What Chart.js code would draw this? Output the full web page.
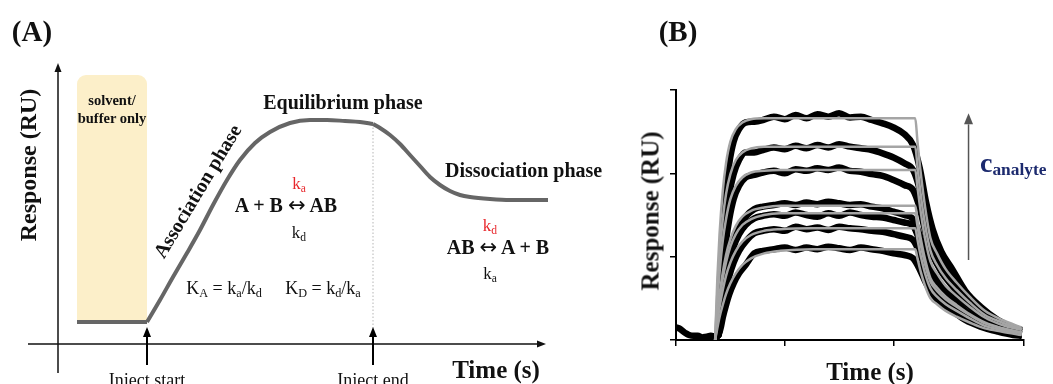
<!DOCTYPE html>
<html>
<head>
<meta charset="utf-8">
<script src="https://cdn.jsdelivr.net/npm/chart.js@4.4.1/dist/chart.umd.min.js"></script>
<style>
  html, body { margin: 0; padding: 0; background: #fff; }
  #wrap { position: relative; width: 1053px; height: 384px; overflow: hidden;
          font-family: "Liberation Serif", "Times New Roman", "DejaVu Serif", serif; color: #111; }
  canvas { position: absolute; top: 0; }
  #chartA { left: 0; }
  #chartB { left: 600px; }
  .t { position: absolute; transform: translate(-50%, -50%); white-space: nowrap; line-height: 1; }
  .l { transform: translate(0, -50%); }
  .b { font-weight: bold; }
  .rot { transform: translate(-50%, -50%) rotate(-90deg); }
  sub { font-size: 0.68em; vertical-align: -0.28em; line-height: 0; }
  .red { color: #e8262b; }
  .arr { font-family: "DejaVu Sans", sans-serif; font-weight: normal; font-size: 1.05em; }
</style>
</head>
<body>
<div id="wrap">
  <canvas id="chartA" width="600" height="384"></canvas>
  <canvas id="chartB" width="453" height="384"></canvas>

  <!-- panel A text -->
  <div class="t b" style="left:32px; top:31px; font-size:29px;">(A)</div>
  <div class="t b rot" style="left:28px; top:165px; font-size:24px;">Response (RU)</div>
  <div class="t b" style="left:112px; top:100px; font-size:14.5px;">solvent/</div>
  <div class="t b" style="left:112px; top:118px; font-size:14.5px;">buffer only</div>
  <div class="t b" style="left:197px; top:191px; font-size:20px; transform:translate(-50%,-50%) rotate(-59deg);">Association phase</div>
  <div class="t b" style="left:343px; top:102px; font-size:20px;">Equilibrium phase</div>
  <div class="t b l" style="left:445px; top:170px; font-size:20px;">Dissociation phase</div>
  <div class="t red" style="left:299px; top:183px; font-size:17px;">k<sub>a</sub></div>
  <div class="t b" style="left:286px; top:205px; font-size:20px;">A + B <span class="arr">↔</span> AB</div>
  <div class="t" style="left:299px; top:232px; font-size:17px;">k<sub>d</sub></div>
  <div class="t" style="left:224px; top:288px; font-size:18px;">K<sub>A</sub> = k<sub>a</sub>/k<sub>d</sub></div>
  <div class="t" style="left:323px; top:288px; font-size:18px;">K<sub>D</sub> = k<sub>d</sub>/k<sub>a</sub></div>
  <div class="t red" style="left:490px; top:225px; font-size:17px;">k<sub>d</sub></div>
  <div class="t b" style="left:498px; top:247px; font-size:20px;">AB <span class="arr">↔</span> A + B</div>
  <div class="t" style="left:490px; top:273px; font-size:17px;">k<sub>a</sub></div>
  <div class="t b" style="left:496px; top:369px; font-size:25px;">Time (s)</div>
  <div class="t" style="left:147px; top:380px; font-size:18px;">Inject start</div>
  <div class="t" style="left:373px; top:380px; font-size:18px;">Inject end</div>

  <!-- panel B text -->
  <div class="t b" style="left:678px; top:31px; font-size:29px;">(B)</div>
  <div class="t b rot" style="left:650px; top:211px; font-size:25px;">Response (RU)</div>
  <div class="t b" style="left:870px; top:371px; font-size:25px;">Time (s)</div>
  <div class="t b l" style="left:980px; top:163px; font-size:28px; color:#1c2a6e;">c<sub style="font-size:0.62em; vertical-align:-0.2em;">analyte</sub></div>
</div>

<script>
// ---- Panel A: schematic sensorgram (arbitrary time / response units)
const baseTime = [19, 89];
const baseResp = [22, 22];
const assocTime = [89, 102, 115, 129, 142, 155, 169, 182, 197, 212, 232, 252, 269, 287, 302, 315];
const assocResp = [22, 44, 67, 91, 114, 139, 164, 184, 201, 212, 221, 224, 224, 223, 222, 220];
const dissocTime = [315, 322, 332, 342, 352, 362, 372, 382, 392, 402, 412, 432, 452, 472, 490];
const dissocResp = [220, 216, 209, 200, 189, 178, 167, 159, 153, 149, 147, 145, 144, 144, 144];
const bufferWindow = [19, 89];
const bufferTop = 269;
const injectStart = 89;
const injectEnd = 315;

// ---- Panel B: measured responses (black) and fitted curves (grey)
const baselineTime = [0, 3, 6, 9, 12, 16, 20, 24, 28, 32, 36];
const baselineResp = [15, 14, 11, 8, 6, 5, 5, 3, 4, 5, 4];

const dataTime = [36, 39, 41, 43, 46, 49, 53, 58, 64, 72, 80, 90, 100, 110, 120, 130, 140, 150, 160, 170,
                  180, 190, 200, 210, 218, 224, 230, 236, 244, 254, 266, 280, 296, 310, 318];
const data1 = [4, 6, 73, 126, 179, 212, 238, 253, 261, 262, 264, 268, 265, 270, 266, 271, 268, 272, 267, 268,
               264, 260, 255, 247, 234, 207, 165, 133, 106, 85, 59, 40, 24, 15, 12];
const data2 = [4, 6, 57, 100, 145, 175, 199, 216, 225, 225, 228, 231, 229, 233, 230, 234, 231, 235, 232, 230,
               228, 224, 219, 212, 204, 181, 144, 116, 93, 74, 51, 35, 21, 13, 10];
const data3 = [4, 6, 45, 80, 119, 145, 169, 185, 195, 198, 201, 203, 200, 205, 203, 206, 204, 207, 203, 202,
               199, 197, 192, 186, 180, 159, 126, 102, 82, 65, 45, 31, 18, 11, 9];
const data4 = [4, 6, 29, 53, 81, 102, 121, 137, 148, 157, 160, 162, 164, 162, 165, 163, 166, 164, 162, 163,
               160, 158, 154, 150, 145, 126, 100, 81, 64, 52, 35, 24, 14, 9, 7];
const data5 = [4, 6, 26, 48, 74, 93, 112, 127, 138, 146, 149, 151, 149, 153, 150, 148, 152, 149, 153, 150,
               148, 147, 144, 141, 137, 119, 94, 76, 61, 49, 33, 23, 14, 8, 7];
const data6 = [4, 6, 21, 39, 60, 77, 93, 107, 118, 128, 131, 133, 131, 136, 133, 135, 132, 136, 134, 133,
               131, 130, 127, 124, 120, 105, 83, 67, 54, 43, 29, 20, 12, 7, 6];
const data7 = [4, 6, 14, 27, 42, 55, 68, 80, 90, 104, 107, 109, 111, 108, 111, 109, 112, 110, 108, 111,
               109, 107, 104, 102, 98, 85, 68, 55, 44, 35, 24, 16, 10, 6, 5];

const fitTime = [36, 38, 40, 43, 46, 50, 55, 61, 69, 81, 96, 126, 220, 222, 225, 229, 234, 240, 248, 258,
                 270, 284, 300, 318];
const fit1 = [0, 73, 126, 179, 212, 238, 253, 261, 265, 266, 266, 266, 266, 239, 201, 160, 122, 104, 85, 69, 52, 35, 24, 15];
const fit2 = [0, 57, 100, 145, 175, 199, 216, 225, 230, 232, 232, 232, 232, 209, 175, 139, 107, 90, 74, 60, 45, 30, 21, 13];
const fit3 = [0, 45, 80, 119, 145, 169, 185, 195, 201, 203, 204, 204, 204, 184, 154, 122, 94, 80, 65, 53, 40, 27, 18, 12];
const fit4 = [0, 29, 53, 81, 102, 121, 137, 148, 155, 159, 161, 161, 161, 145, 122, 97, 74, 63, 52, 42, 31, 21, 14, 9];
const fit5 = [0, 26, 48, 74, 93, 112, 127, 138, 145, 150, 152, 152, 152, 137, 115, 91, 70, 59, 49, 40, 30, 20, 14, 9];
const fit6 = [0, 21, 39, 60, 77, 93, 107, 118, 126, 131, 133, 134, 134, 121, 101, 80, 62, 52, 43, 35, 26, 17, 12, 8];
const fit7 = [0, 14, 27, 42, 55, 68, 80, 90, 98, 104, 107, 109, 109, 98, 82, 65, 50, 43, 35, 28, 21, 14, 10, 6];

const concArrow = { time: 269, from: 96, to: 272 };

const toXY = (xs, ys) => xs.map((x, i) => ({ x: x, y: ys[i] }));

function drawArrow(ctx, x1, y1, x2, y2, head, halfW, color, width) {
    const ang = Math.atan2(y2 - y1, x2 - x1);
    const bx = x2 - Math.cos(ang) * head, by = y2 - Math.sin(ang) * head;
    ctx.strokeStyle = color;
    ctx.lineWidth = width;
    ctx.beginPath();
    ctx.moveTo(x1, y1);
    ctx.lineTo(bx, by);
    ctx.stroke();
    ctx.fillStyle = color;
    ctx.beginPath();
    ctx.moveTo(x2, y2);
    ctx.lineTo(bx - Math.sin(ang) * halfW, by + Math.cos(ang) * halfW);
    ctx.lineTo(bx + Math.sin(ang) * halfW, by - Math.cos(ang) * halfW);
    ctx.closePath();
    ctx.fill();
}

// ---- chart A
const schemePlugin = {
    id: 'scheme',
    beforeDatasetsDraw(chart) {
        const ctx = chart.ctx, x = chart.scales.x, y = chart.scales.y;
        ctx.save();
        // buffer-only window
        const l = x.getPixelForValue(bufferWindow[0]), r = x.getPixelForValue(bufferWindow[1]);
        const t = y.getPixelForValue(bufferTop), b = y.getPixelForValue(baseResp[0]);
        ctx.fillStyle = '#fcefc9';
        ctx.beginPath();
        ctx.roundRect(l, t, r - l, b - t, [9, 9, 0, 0]);
        ctx.fill();
        // axes crossing at the origin
        const x0 = x.getPixelForValue(0), y0 = y.getPixelForValue(0);
        drawArrow(ctx, x0, y.getPixelForValue(-29), x0, y.getPixelForValue(281), 9, 3.5, '#111', 1.5);
        drawArrow(ctx, x.getPixelForValue(-30), y0, x.getPixelForValue(488), y0, 9, 3.5, '#111', 1.5);
        // dotted line at inject end
        ctx.strokeStyle = '#b5b5b5';
        ctx.lineWidth = 1;
        ctx.setLineDash([1.5, 2]);
        ctx.beginPath();
        ctx.moveTo(x.getPixelForValue(injectEnd), y.getPixelForValue(assocResp[assocResp.length - 1]));
        ctx.lineTo(x.getPixelForValue(injectEnd), y0 - 2);
        ctx.stroke();
        ctx.restore();
    },
    afterDatasetsDraw(chart) {
        const ctx = chart.ctx, x = chart.scales.x, y = chart.scales.y;
        ctx.save();
        [injectStart, injectEnd].forEach(v => {
            const px = x.getPixelForValue(v);
            drawArrow(ctx, px, y.getPixelForValue(-21), px, y.getPixelForValue(17), 10, 4, '#000', 2);
        });
        ctx.restore();
    }
};

const schemeLine = { borderColor: '#666666', borderWidth: 4, cubicInterpolationMode: 'monotone' };

new Chart(document.getElementById('chartA'), {
    type: 'line',
    data: {
        datasets: [
            Object.assign({ data: toXY(baseTime, baseResp) }, schemeLine),
            Object.assign({ data: toXY(assocTime, assocResp) }, schemeLine),
            Object.assign({ data: toXY(dissocTime, dissocResp) }, schemeLine)
        ]
    },
    options: {
        responsive: false,
        animation: false,
        events: [],
        layout: { padding: { left: 28, right: 47, top: 60, bottom: 10 } },
        plugins: { legend: { display: false }, tooltip: { enabled: false } },
        elements: { point: { radius: 0 } },
        scales: {
            x: { type: 'linear', min: -30, max: 495, display: false },
            y: { min: -30, max: 284, display: false }
        }
    },
    plugins: [schemePlugin]
});

// ---- chart B
const arrowPlugin = {
    id: 'concArrow',
    afterDatasetsDraw(chart) {
        const ctx = chart.ctx, x = chart.scales.x, y = chart.scales.y;
        const px = x.getPixelForValue(concArrow.time);
        ctx.save();
        drawArrow(ctx, px, y.getPixelForValue(concArrow.from), px, y.getPixelForValue(concArrow.to), 11, 4.5, '#555', 1.5);
        ctx.restore();
    }
};

const fits = [fit1, fit2, fit3, fit4, fit5, fit6, fit7];
const measured = [data1, data2, data3, data4, data5, data6, data7];

const datasetsB = [];
fits.forEach(f => datasetsB.push({
    data: toXY(fitTime, f), borderColor: '#a5a5a5', borderWidth: 2.5, order: 0
}));
measured.forEach(d => datasetsB.push({
    data: toXY(dataTime, d), borderColor: '#000', borderWidth: 6.5, order: 1
}));
datasetsB.push({ data: toXY(baselineTime, baselineResp), borderColor: '#000', borderWidth: 6.5, order: 1 });

const axisB = {
    ticks: { display: false, stepSize: 100 },
    grid: { drawOnChartArea: false, drawTicks: true, tickLength: 6, color: '#000', lineWidth: 1.5 },
    border: { color: '#000', width: 2 }
};

new Chart(document.getElementById('chartB'), {
    type: 'line',
    data: { datasets: datasetsB },
    options: {
        responsive: false,
        animation: false,
        events: [],
        layout: { padding: { left: 70, right: 29, top: 90, bottom: 38 } },
        plugins: { legend: { display: false }, tooltip: { enabled: false } },
        elements: {
            point: { radius: 0 },
            line: { cubicInterpolationMode: 'monotone', capStyle: 'round', joinStyle: 'round' }
        },
        scales: {
            x: Object.assign({ type: 'linear', min: 0, max: 320 }, axisB),
            y: Object.assign({ min: 0, max: 300 }, axisB)
        }
    },
    plugins: [arrowPlugin]
});
</script>
</body>
</html>
